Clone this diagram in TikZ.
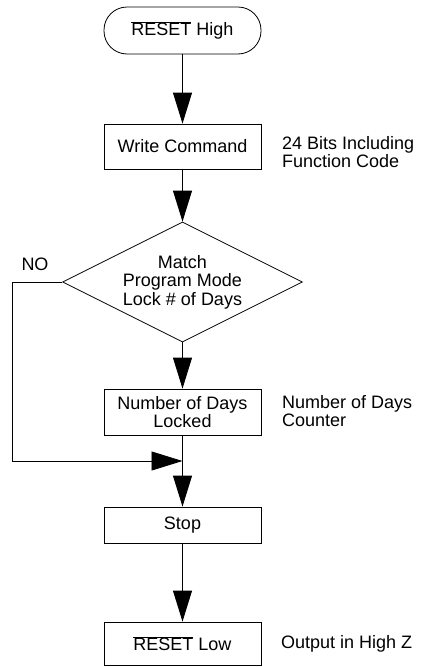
\documentclass[tikz,border=0pt]{standalone}
\usepackage{fontspec}
\setmainfont{Liberation Sans}
\usetikzlibrary{arrows.meta,shapes.geometric}
\newcommand{\rstbar}{$\overline{\mbox{RESET}}$}
\tikzset{
  every node/.style={font=\fontsize{18}{18.5}\selectfont},
  boxnode/.style={draw, line width=0.8pt, minimum width=157pt, inner sep=0pt, align=center},
  termnode/.style={draw, line width=0.8pt, minimum width=157pt, minimum height=47pt, rounded corners=23pt, inner sep=0pt},
  decnode/.style={draw, line width=0.8pt, diamond, shape aspect=2, minimum width=240pt, minimum height=120pt, inner sep=0pt, align=center},
  sidelabel/.style={anchor=west, inner sep=0pt, align=left},
  arr/.style={line width=0.8pt, -{Triangle[length=31pt,width=19pt]}},
  ln/.style={line width=0.8pt}
}
\begin{document}
\begin{tikzpicture}[x=1pt,y=-1pt]
\useasboundingbox (0,0) rectangle (421,667);
\node[termnode] (start) at (182.5,30.5) {\rstbar{} High};
\node[boxnode, minimum height=45pt] (write) at (182.5,146.5) {Write Command};
\node[decnode] (dec) at (182.5,282) {Match\\Program Mode\\Lock \# of Days};
\node[boxnode, minimum height=46pt] (days) at (182.5,412) {Number of Days\\Locked};
\coordinate (j) at (182.5,461);
\node[boxnode, minimum height=36pt] (stop) at (182.5,525) {Stop};
\node[boxnode, minimum height=43pt] (low) at (182.5,643.5) {\rstbar{} Low};

\node[sidelabel] (l1) at (282,152) {24 Bits Including\\Function Code};
\node[sidelabel] (l2) at (282,411) {Number of Days\\Counter};
\node[sidelabel] (l3) at (281,644) {Output in High Z};
\node[inner sep=0pt] (no) at (35,264) {NO};

\coordinate (c1) at (12,282);
\coordinate (c2) at (12,461);

\draw[arr] (start) -- (write);
\draw[arr] (write) -- (dec);
\draw[arr] (dec) -- (days);
\draw[arr] (days) -- (stop);
\draw[arr] (stop) -- (low);
\draw[arr] (dec.west) -- (c1) -- (c2) -- (j);
\end{tikzpicture}
\end{document}
